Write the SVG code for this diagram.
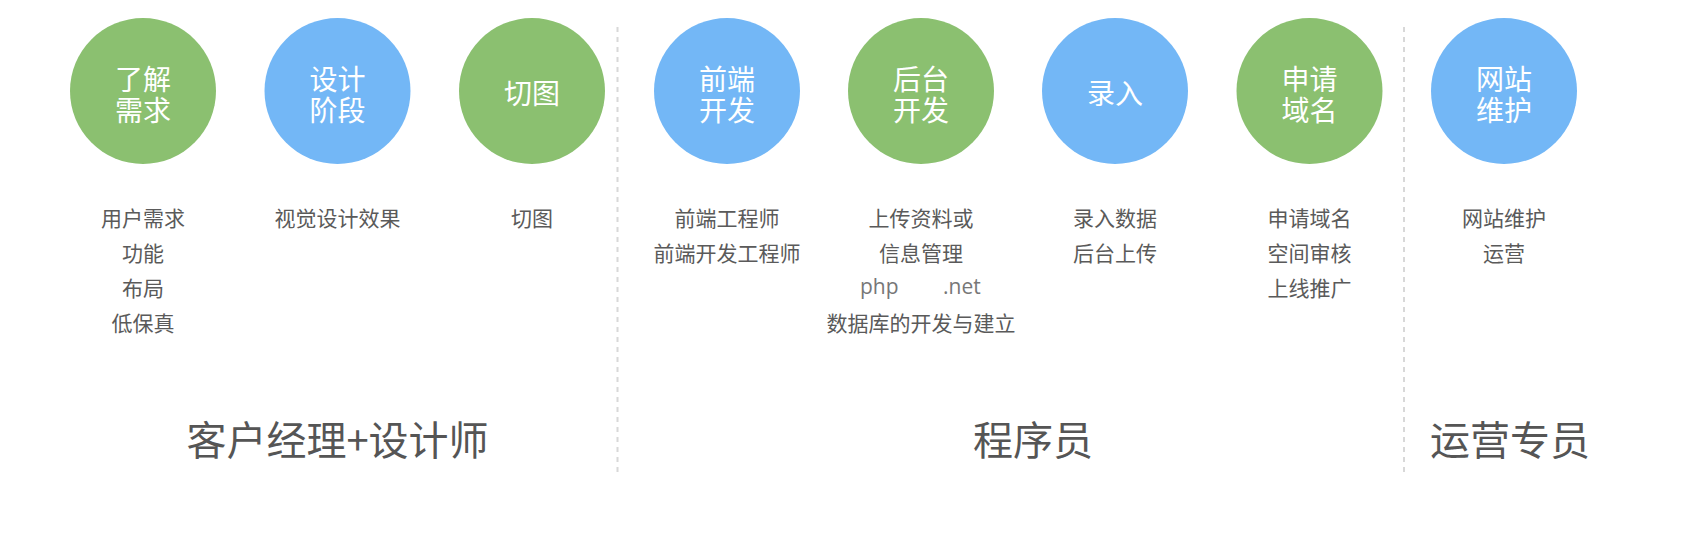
<svg xmlns="http://www.w3.org/2000/svg" width="1684" height="545" viewBox="0 0 1684 545">
<style>
text{font-family:"Noto Sans CJK SC","Noto Sans",sans-serif;text-anchor:middle}
.g{fill:#8bc070}
.b{fill:#73b7f6}
.ct{fill:#ffffff;font-size:28px}
.d{fill:#5a5a5a;font-size:21px}
.php{font-family:"Open Sans","Noto Sans",sans-serif;font-size:21px;fill:#777;text-anchor:start}
.role{fill:#555;font-size:40px}
.sep{stroke:#d8d8d8;stroke-width:2;stroke-dasharray:5 5;fill:none}
</style>
<rect width="1684" height="545" fill="#ffffff"/>
<g id="connectors">
<line class="sep" x1="617.5" y1="27" x2="617.5" y2="475"/>
<line class="sep" x1="1404" y1="27" x2="1404" y2="475"/>
</g>
<g id="n1"><circle class="g" cx="143" cy="91" r="73"/><text class="ct" x="143" y="90">了解</text><text class="ct" x="143" y="121">需求</text></g>
<g id="n2"><circle class="b" cx="337.5" cy="91" r="73"/><text class="ct" x="337.5" y="90">设计</text><text class="ct" x="337.5" y="121">阶段</text></g>
<g id="n3"><circle class="g" cx="532" cy="91" r="73"/><text class="ct" x="532" y="104">切图</text></g>
<g id="n4"><circle class="b" cx="727" cy="91" r="73"/><text class="ct" x="727" y="90">前端</text><text class="ct" x="727" y="121">开发</text></g>
<g id="n5"><circle class="g" cx="921" cy="91" r="73"/><text class="ct" x="921" y="90">后台</text><text class="ct" x="921" y="121">开发</text></g>
<g id="n6"><circle class="b" cx="1115" cy="91" r="73"/><text class="ct" x="1115" y="104">录入</text></g>
<g id="n7"><circle class="g" cx="1309.5" cy="91" r="73"/><text class="ct" x="1309.5" y="90">申请</text><text class="ct" x="1309.5" y="121">域名</text></g>
<g id="n8"><circle class="b" cx="1504" cy="91" r="73"/><text class="ct" x="1504" y="90">网站</text><text class="ct" x="1504" y="121">维护</text></g>
<g id="desc1"><text class="d" x="143" y="226">用户需求</text><text class="d" x="143" y="261">功能</text><text class="d" x="143" y="296">布局</text><text class="d" x="143" y="331">低保真</text></g>
<g id="desc2"><text class="d" x="337.5" y="226">视觉设计效果</text></g>
<g id="desc3"><text class="d" x="532" y="226">切图</text></g>
<g id="desc4"><text class="d" x="727" y="226">前端工程师</text><text class="d" x="727" y="261">前端开发工程师</text></g>
<g id="desc5"><text class="d" x="921" y="226">上传资料或</text><text class="d" x="921" y="261">信息管理</text><text class="php" y="294"><tspan x="860">php</tspan><tspan x="943">.net</tspan></text><text class="d" x="921" y="331">数据库的开发与建立</text></g>
<g id="desc6"><text class="d" x="1115" y="226">录入数据</text><text class="d" x="1115" y="261">后台上传</text></g>
<g id="desc7"><text class="d" x="1309.5" y="226">申请域名</text><text class="d" x="1309.5" y="261">空间审核</text><text class="d" x="1309.5" y="296">上线推广</text></g>
<g id="desc8"><text class="d" x="1504" y="226">网站维护</text><text class="d" x="1504" y="261">运营</text></g>
<g id="roles"><text class="role" x="337.5" y="455">客户经理+设计师</text><text class="role" x="1033" y="455">程序员</text><text class="role" x="1510" y="455">运营专员</text></g>
</svg>
